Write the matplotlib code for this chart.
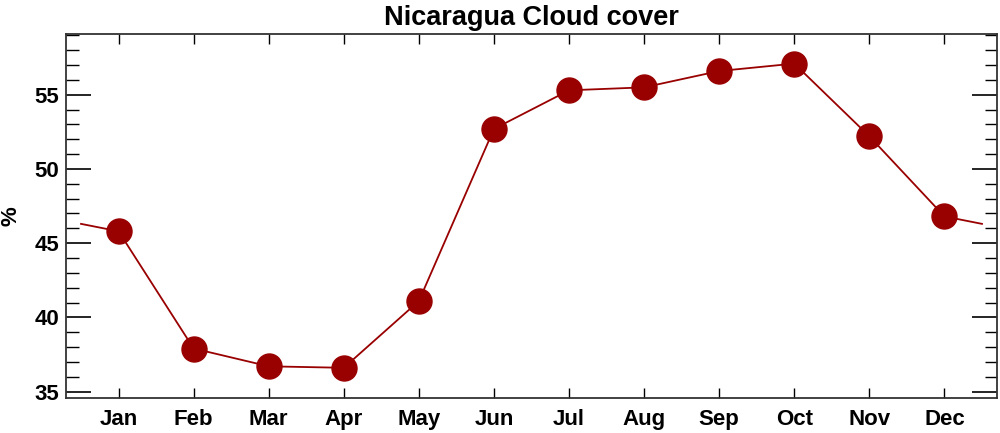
import matplotlib
matplotlib.use("Agg")
import matplotlib.pyplot as plt
from matplotlib.ticker import MultipleLocator

months = ["Jan", "Feb", "Mar", "Apr", "May", "Jun", "Jul", "Aug", "Sep", "Oct", "Nov", "Dec"]
cloud = [45.8, 37.9, 36.7, 36.6, 41.1, 52.7, 55.3, 55.5, 56.6, 57.1, 52.2, 46.8]

plt.rcParams['font.family'] = ['Liberation Sans', 'DejaVu Sans']
plt.rcParams['font.weight'] = 'bold'

fig = plt.figure(figsize=(10, 4.33), dpi=100)
ax = fig.add_axes([0.066, 0.081, 0.931, 0.841])

x = list(range(1, 13))
wrap = (cloud[0] + cloud[-1]) / 2
xl = [0.5] + x + [12.5]
yl = [wrap] + cloud + [wrap]
color = '#990000'
ax.plot(xl, yl, '-', color=color, lw=1.3)
ax.plot(x, cloud, 'o', color=color, ms=18, mec=color)

ax.set_xlim(0.3, 12.7)
ax.set_ylim(34.57, 59.11)
ax.set_xticks(x)
ax.set_xticklabels(months)
ax.yaxis.set_major_locator(MultipleLocator(5))
ax.yaxis.set_minor_locator(MultipleLocator(1))
ax.tick_params(axis='y', which='major', direction='in', length=18, width=1.2, right=True, labelsize=16, pad=5)
ax.tick_params(axis='y', which='minor', direction='in', length=9, width=1.0, right=True)
ax.tick_params(axis='x', which='major', direction='in', length=7, width=1.0, top=True, labelsize=16, pad=8)
for s in ax.spines.values():
    s.set_linewidth(1.3)
    s.set_color('#333333')
fig.text(0.011, 0.5, '%', fontsize=16, fontweight='bold', rotation=90, ha='center', va='center')
ax.set_title('Nicaragua Cloud cover', fontsize=19.5, fontweight='bold', pad=6)

fig.savefig('out.png', dpi=100)
